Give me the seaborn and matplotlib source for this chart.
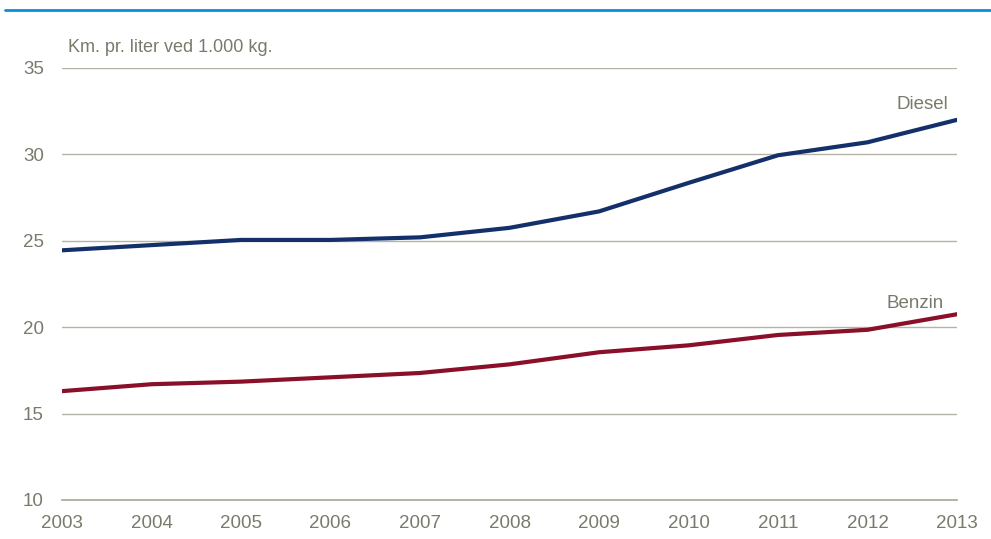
import numpy as np
import pandas as pd
import matplotlib
matplotlib.use('Agg')
import matplotlib.pyplot as plt
import seaborn as sns

# Data
years = [2003, 2004, 2005, 2006, 2007, 2008, 2009, 2010, 2011, 2012, 2013]
diesel = [24.45, 24.75, 25.05, 25.05, 25.2, 25.75, 26.7, 28.35, 29.95, 30.7, 32.0]
benzin = [16.3, 16.7, 16.85, 17.1, 17.35, 17.85, 18.55, 18.95, 19.55, 19.85, 20.75]

df = pd.DataFrame({'Year': years * 2,
                   'Value': diesel + benzin,
                   'Type': ['Diesel'] * len(years) + ['Benzin'] * len(years)})

sns.set_theme(style='white')
plt.rcParams['font.family'] = ['Liberation Sans', 'DejaVu Sans']
txt = '#7a7a6c'
grid = '#b5b3a6'

fig = plt.figure(figsize=(9.91, 5.39), dpi=100)
ax = fig.add_axes([62 / 991, 39 / 539, (957 - 62) / 991, (500 - 68) / 539])

sns.lineplot(data=df, x='Year', y='Value', hue='Type',
             palette={'Diesel': '#14306a', 'Benzin': '#8a0f28'},
             linewidth=3, legend=False, ax=ax,
             solid_capstyle='round')

ax.set_xlim(2003, 2013)
ax.set_ylim(10, 35)
ax.set_yticks([10, 15, 20, 25, 30, 35])
ax.set_xticks(years)
ax.set_xlabel('')
ax.set_ylabel('')
for y in [15, 20, 25, 30, 35]:
    ax.axhline(y, color=grid, linewidth=1, zorder=0)
for s in ['top', 'right', 'left']:
    ax.spines[s].set_visible(False)
ax.spines['bottom'].set_color('#a8a696')
ax.spines['bottom'].set_linewidth(1.2)
ax.tick_params(axis='both', length=0, labelsize=13.5, colors=txt)
ax.tick_params(axis='y', pad=13)
ax.tick_params(axis='x', pad=11)

ax.text(2003.07, 36.2, 'Km. pr. liter ved 1.000 kg.', fontsize=13, color=txt,
        ha='left', va='center', clip_on=False)
ax.text(2012.9, 32.9, 'Diesel', fontsize=13.5, color=txt, ha='right', va='center')
ax.text(2012.85, 21.4, 'Benzin', fontsize=13.5, color=txt, ha='right', va='center')

# Blue rule at top
fig.add_artist(plt.Line2D([5 / 991, 1], [1 - 10 / 539, 1 - 10 / 539],
                          color='#0a8fd2', linewidth=2))

fig.savefig('out.png', dpi=100)
